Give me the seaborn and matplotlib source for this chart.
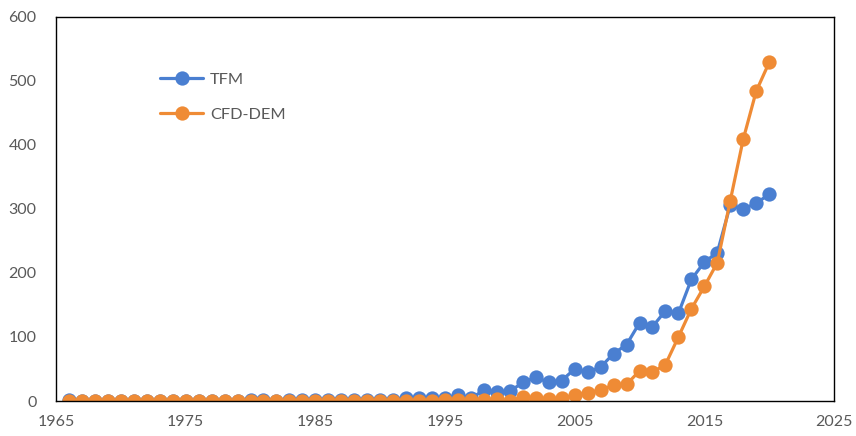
import numpy as np
import pandas as pd
import matplotlib
matplotlib.use("Agg")
import matplotlib.pyplot as plt
import seaborn as sns

years = list(range(1966, 2021))
tfm = [1, 0, 0, 0, 0, 0, 0, 0, 0, 0, 0, 0, 0, 0, 1, 1, 0, 2, 2, 2,
       2, 1, 1, 2, 2, 2, 5, 5, 5, 4, 9, 4, 17, 14, 15, 29, 37, 29, 32, 50,
       45, 53, 74, 88, 122, 116, 141, 137, 190, 217, 232, 306, 300, 309, 323]
cfd_dem = [0, 0, 0, 0, 0, 0, 0, 0, 0, 0, 0, 0, 0, 0, 0, 0, 0, 0, 0, 0,
           0, 0, 0, 0, 0, 0, 0, 0, 0, 1, 1, 2, 1, 3, 0, 7, 4, 3, 4, 9,
           13, 17, 25, 26, 47, 45, 57, 100, 144, 179, 216, 313, 409, 484, 529]
series_names = ["TFM", "CFD-DEM"]
x_ticks = [1965, 1975, 1985, 1995, 2005, 2015, 2025]
y_ticks = [0, 100, 200, 300, 400, 500, 600]

df = pd.concat([
    pd.DataFrame({"year": years, "value": tfm, "series": series_names[0]}),
    pd.DataFrame({"year": years, "value": cfd_dem, "series": series_names[1]}),
])

sns.set_style("white")
plt.rcParams["font.family"] = ["Lato", "DejaVu Sans"]

fig = plt.figure(figsize=(8.56, 4.36), dpi=100)
ax = fig.add_axes([56/856, 1-401/436, (834-56)/856, (401-17)/436])

palette = {"TFM": "#4a7fd1", "CFD-DEM": "#ef8b35"}
sns.lineplot(data=df, x="year", y="value", hue="series", palette=palette,
             marker="o", markersize=10.3, markeredgewidth=0, linewidth=2.3,
             ax=ax, legend=True)

ax.set_xlim(1965, 2025)
ax.set_ylim(0, 600)
ax.set_xticks(x_ticks)
ax.set_yticks(y_ticks)
ax.set_xlabel("")
ax.set_ylabel("")
ax.tick_params(axis="both", length=0, labelsize=11.5, labelcolor="#595959")
ax.tick_params(axis="x", pad=10)
ax.tick_params(axis="y", pad=14)
for s in ax.spines.values():
    s.set_color("black")
    s.set_linewidth(1.0)

leg = ax.legend(loc="upper left", bbox_to_anchor=(0.115, 0.895), frameon=False,
                handlelength=2.6, labelspacing=1.25, fontsize=11.8,
                handletextpad=0.45)
for t in leg.get_texts():
    t.set_color("#595959")

fig.savefig("out.png", dpi=100)
